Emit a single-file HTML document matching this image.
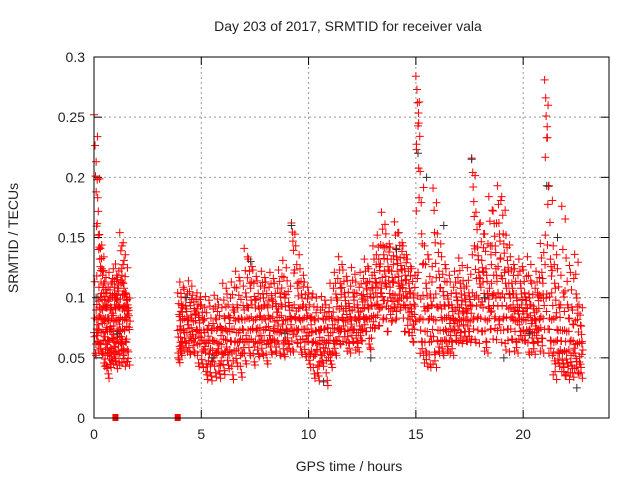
<!DOCTYPE html>
<html><head><meta charset="utf-8"><style>
body{margin:0;background:#fff;}
svg text{font-family:"Liberation Sans",sans-serif;font-size:14px;fill:#222;}
</style></head><body>
<svg id="chart" width="640" height="480" xmlns="http://www.w3.org/2000/svg">
<text x="348" y="31" text-anchor="middle">Day 203 of 2017, SRMTID for receiver vala</text>
<text x="349" y="471" text-anchor="middle">GPS time / hours</text>
<text transform="translate(18,238) rotate(-90)" text-anchor="middle">SRMTID / TECUs</text>
<g id="grid"></g><g id="ticks"></g><g id="pts"></g>
<rect x="94" y="57" width="515" height="361" fill="none" stroke="#000" stroke-width="1"/>
</svg>
<script>
const xTicks=[0,5,10,15,20];
const yTicks=[0,0.05,0.1,0.15,0.2,0.25,0.3];
const yLabels=["0","0.05","0.1","0.15","0.2","0.25","0.3"];
// each row: [time, value, value, ...]
const rows=[
[0.0,0.252,0.201,0.118,0.083,0.052,0.071],[0.1,0.213,0.183,0.097,0.074,0.063,0.092],[0.2,0.152,0.132,0.113,0.084,0.061,0.055],
[0.3,0.141,0.124,0.093,0.071,0.053,0.104],[0.4,0.122,0.101,0.083,0.064,0.043,0.092],[0.5,0.113,0.094,0.072,0.057,0.041,0.081],
[0.6,0.104,0.083,0.064,0.052,0.033,0.076],[0.7,0.121,0.092,0.074,0.056,0.042,0.102],[0.8,0.113,0.087,0.066,0.051,0.045,0.094],
[0.9,0.124,0.103,0.081,0.063,0.047,0.072],[1.0,0.128,0.102,0.082,0.054,0.041,0.093],[1.1,0.117,0.094,0.073,0.062,0.044,0.112],
[1.2,0.154,0.124,0.102,0.083,0.061,0.052],[1.3,0.143,0.112,0.093,0.074,0.056,0.043],[1.4,0.131,0.104,0.091,0.082,0.063,0.047],
[1.5,0.103,0.094,0.085,0.076,0.055,0.044],
[3.9,0.104,0.086,0.067,0.054,0.046,0.073],[4.0,0.113,0.094,0.082,0.063,0.052,0.074],[4.2,0.107,0.093,0.084,0.071,0.062,0.055],
[4.4,0.114,0.096,0.075,0.064,0.053,0.083],[4.6,0.102,0.091,0.081,0.066,0.054,0.072],[4.8,0.104,0.085,0.073,0.061,0.043,0.093],
[5.0,0.094,0.082,0.064,0.055,0.042,0.071],[5.2,0.101,0.074,0.062,0.045,0.032,0.053],[5.4,0.093,0.073,0.056,0.044,0.031,0.064],
[5.6,0.102,0.083,0.063,0.052,0.034,0.075],[5.8,0.094,0.076,0.061,0.045,0.033,0.054],[6.0,0.112,0.084,0.065,0.053,0.036,0.073],
[6.2,0.103,0.085,0.072,0.055,0.041,0.064],[6.4,0.113,0.092,0.074,0.054,0.032,0.063],[6.6,0.122,0.094,0.071,0.056,0.043,0.082],
[6.8,0.114,0.083,0.065,0.052,0.034,0.073],[7.0,0.141,0.104,0.083,0.063,0.045,0.092],[7.2,0.132,0.112,0.084,0.065,0.052,0.094],
[7.4,0.123,0.101,0.082,0.063,0.044,0.074],[7.6,0.114,0.093,0.075,0.062,0.051,0.085],[7.8,0.122,0.103,0.083,0.064,0.052,0.094],
[8.0,0.113,0.094,0.076,0.061,0.045,0.083],[8.2,0.121,0.102,0.084,0.065,0.053,0.073],[8.4,0.112,0.095,0.081,0.072,0.054,0.064],
[8.6,0.123,0.104,0.085,0.071,0.052,0.093],[8.8,0.131,0.103,0.082,0.064,0.051,0.074],[9.0,0.114,0.096,0.083,0.072,0.061,0.055],
[9.2,0.162,0.147,0.094,0.073,0.055,0.084],[9.4,0.143,0.112,0.091,0.074,0.062,0.083],[9.6,0.124,0.103,0.082,0.065,0.053,0.094],
[9.8,0.113,0.092,0.074,0.063,0.051,0.085],[10.0,0.104,0.084,0.071,0.054,0.042,0.063],[10.2,0.103,0.082,0.063,0.051,0.033,0.072],
[10.4,0.092,0.073,0.061,0.044,0.031,0.055],[10.6,0.101,0.083,0.064,0.052,0.043,0.074],[10.8,0.094,0.075,0.062,0.048,0.027,0.083],
[11.0,0.112,0.084,0.071,0.053,0.042,0.064],[11.2,0.121,0.103,0.082,0.064,0.052,0.075],[11.4,0.134,0.112,0.093,0.074,0.061,0.083],
[11.6,0.123,0.104,0.091,0.081,0.072,0.063],[11.8,0.114,0.095,0.083,0.073,0.062,0.054],[12.0,0.125,0.104,0.092,0.074,0.063,0.083],
[12.2,0.113,0.094,0.082,0.071,0.062,0.055],[12.4,0.121,0.102,0.091,0.073,0.064,0.084],[12.6,0.132,0.112,0.101,0.083,0.072,0.094],
[12.8,0.124,0.103,0.084,0.066,0.057,0.093],[13.0,0.143,0.121,0.104,0.085,0.075,0.112],[13.2,0.152,0.132,0.113,0.094,0.077,0.104],
[13.4,0.171,0.143,0.122,0.101,0.083,0.112],[13.6,0.153,0.132,0.114,0.093,0.072,0.123],[13.8,0.142,0.122,0.103,0.091,0.081,0.113],
[14.0,0.163,0.141,0.122,0.102,0.083,0.094],[14.2,0.154,0.133,0.114,0.103,0.092,0.123],[14.4,0.143,0.124,0.105,0.094,0.072,0.115],
[14.6,0.132,0.112,0.094,0.083,0.071,0.104],[14.8,0.124,0.103,0.086,0.074,0.063,0.093],
[15.0,0.284,0.262,0.245,0.223,0.121,0.082],[15.2,0.205,0.153,0.102,0.083,0.063,0.052],[15.4,0.143,0.112,0.091,0.072,0.054,0.043],
[15.6,0.132,0.103,0.084,0.063,0.042,0.094],[15.8,0.191,0.154,0.103,0.082,0.053,0.042],[16.0,0.153,0.122,0.094,0.073,0.054,0.064],
[16.2,0.134,0.105,0.083,0.064,0.052,0.093],[16.4,0.124,0.102,0.085,0.072,0.055,0.064],[16.6,0.113,0.094,0.083,0.074,0.063,0.052],
[16.8,0.122,0.104,0.092,0.081,0.064,0.073],[17.0,0.133,0.112,0.094,0.082,0.071,0.062],[17.2,0.114,0.102,0.091,0.083,0.072,0.064],
[17.4,0.125,0.104,0.093,0.081,0.072,0.063],[17.6,0.216,0.192,0.143,0.104,0.083,0.065],[17.8,0.171,0.142,0.121,0.102,0.084,0.062],
[18.0,0.162,0.131,0.113,0.094,0.072,0.121],[18.2,0.153,0.124,0.103,0.082,0.063,0.054],[18.4,0.184,0.143,0.112,0.091,0.074,0.102],
[18.6,0.172,0.151,0.124,0.103,0.084,0.065],[18.8,0.193,0.162,0.132,0.104,0.082,0.073],[19.0,0.184,0.153,0.121,0.103,0.084,0.062],
[19.2,0.152,0.131,0.112,0.093,0.074,0.055],[19.4,0.134,0.112,0.094,0.083,0.065,0.103],[19.6,0.124,0.103,0.092,0.081,0.063,0.054],
[19.8,0.132,0.112,0.094,0.083,0.072,0.065],[20.0,0.123,0.104,0.091,0.082,0.064,0.073],[20.2,0.134,0.103,0.085,0.072,0.053,0.094],
[20.4,0.112,0.093,0.082,0.071,0.062,0.053],[20.6,0.122,0.104,0.091,0.074,0.063,0.082],[20.8,0.145,0.121,0.103,0.084,0.066,0.054],
[21.0,0.281,0.251,0.233,0.152,0.103,0.074],[21.2,0.193,0.132,0.104,0.083,0.064,0.052],[21.4,0.143,0.112,0.084,0.063,0.045,0.032],
[21.6,0.124,0.094,0.073,0.055,0.043,0.064],[21.8,0.176,0.104,0.073,0.054,0.042,0.035],[22.0,0.133,0.094,0.072,0.055,0.043,0.032],
[22.2,0.121,0.092,0.064,0.052,0.041,0.034],[22.4,0.136,0.103,0.082,0.061,0.047,0.038],[22.6,0.094,0.077,0.062,0.051,0.042,0.033]];
const blackTimes=[0.1,1.1,4.3,5.5,7.3,8.9,9.2,10.7,12.9,14.1,15.1,15.5,16.3,17.6,18.2,19.1,20.3,21.1,21.6,22.5];
const blackValues=[0.1,0.07,0.1,0.05,0.13,0.07,0.16,0.03,0.05,0.14,0.22,0.2,0.16,0.215,0.1,0.05,0.07,0.193,0.15,0.025];
const X0=94,X1=609,Y0=418,Y1=57,XMAX=24,YMAX=0.3;
const xs=v=>X0+(X1-X0)*v/XMAX, ys=v=>Y0-(Y0-Y1)*v/YMAX;
const NS="http://www.w3.org/2000/svg";
const G=document.getElementById('grid'),T=document.getElementById('ticks'),P=document.getElementById('pts');
function mk(tag,attrs,parent){const e=document.createElementNS(NS,tag);for(const k in attrs)e.setAttribute(k,attrs[k]);parent.appendChild(e);return e;}
xTicks.forEach(t=>{
  const x=xs(t);
  if(t>0){const l=mk('line',{x1:x,x2:x,y1:Y1,y2:Y0,stroke:'#999','stroke-dasharray':'2,3'},G);
  
  }
  mk('line',{x1:x,x2:x,y1:Y0,y2:Y0-8,stroke:'#000'},T);mk('line',{x1:x,x2:x,y1:Y1,y2:Y1+8,stroke:'#000'},T);
  const tx=mk('text',{x:x,y:Y0+21,'text-anchor':'middle'},T);tx.textContent=t;
  
  
});
yTicks.forEach((t,i)=>{
  const y=ys(t);
  if(t>0&&t<0.3){const l=mk('line',{x1:X0,x2:X1,y1:y,y2:y,stroke:'#999','stroke-dasharray':'2,3'},G);
  
  }
  mk('line',{x1:X0,x2:X0+8,y1:y,y2:y,stroke:'#000'},T);mk('line',{x1:X1,x2:X1-8,y1:y,y2:y,stroke:'#000'},T);
  const tx=mk('text',{x:X0-9,y:y+5,'text-anchor':'end'},T);tx.textContent=yLabels[i];
  
  
});
function plus(x,y,c){
  const p=mk('path',{d:`M${x-4},${y}h8M${x},${y-4}v8`,stroke:c,'stroke-width':1,fill:'none'},P);
  
  
}
const offs=[0,0.07,0.13,0.03,0.1,0.16];
rows.forEach(r=>{const t=r[0];const v0=r.slice(1);v0.forEach((v,j)=>{
  plus(xs(t+offs[j]),ys(v),'#f00');
  plus(xs(t+offs[5-j]),ys(v*0.9+0.007),'#f00');
  const w=v0[(j+1)%6];
  plus(xs(t+offs[(j+3)%6]+0.02),ys((v+w)/2),'#f00');
});});
blackTimes.forEach((t,i)=>plus(xs(t),ys(blackValues[i]),'#333'));
[1.0,3.9].forEach(t=>{const r=mk('rect',{x:xs(t)-3,y:Y0-4,width:6,height:7,fill:'#f00'},P);

});
</script>
</body></html>
